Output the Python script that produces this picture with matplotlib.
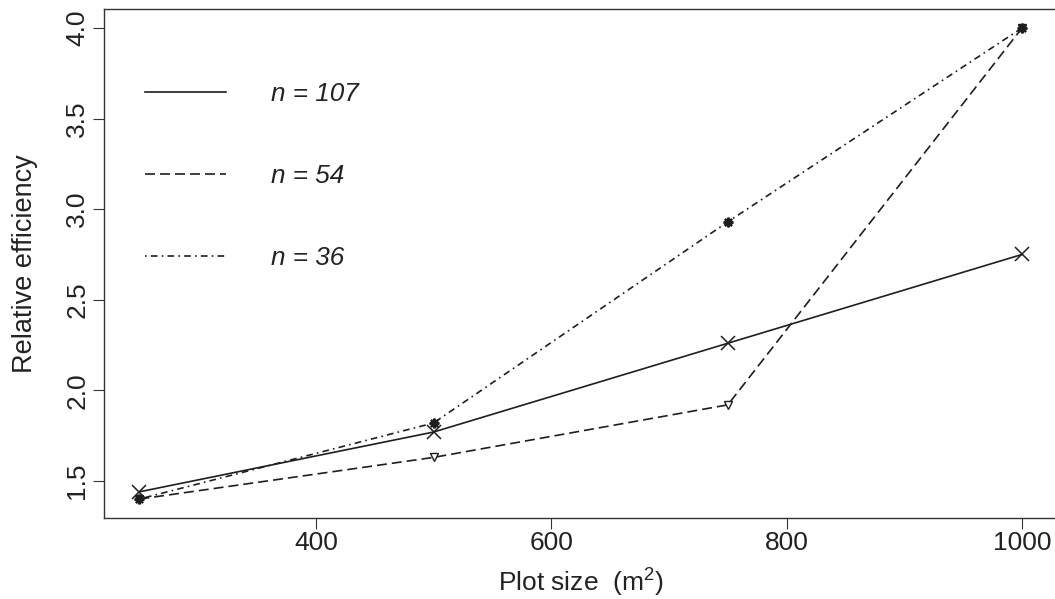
import matplotlib
matplotlib.use("Agg")
from matplotlib import pyplot as plt
from matplotlib.lines import Line2D

plt.rcParams['font.family'] = ['Liberation Sans', 'DejaVu Sans']
plt.rcParams['mathtext.fontset'] = 'custom'
plt.rcParams['mathtext.rm'] = 'Liberation Sans'
plt.rcParams['mathtext.it'] = 'Liberation Sans:italic'

plot_size = [250, 500, 750, 1000]
eff_107 = [1.44, 1.77, 2.26, 2.75]
eff_54 = [1.40, 1.63, 1.92, 4.00]
eff_36 = [1.40, 1.82, 2.93, 4.00]
labels = ["n = 107", "n = 54", "n = 36"]

ink = '#1e1e1e'

fig = plt.figure(figsize=(10.55, 5.99), dpi=100)
# axes box in pixels: left 104, bottom 81 (from figure bottom), top 9 from top
ax = fig.add_axes([104 / 1055, 81 / 599, 953.4 / 1055, 509 / 599])

ax.plot(plot_size, eff_107, color=ink, lw=1.2, linestyle='-',
        marker='x', markersize=10, markeredgewidth=1.1)
ax.plot(plot_size, eff_54, color=ink, lw=1.2, dashes=(6, 3),
        marker='v', markersize=6, markerfacecolor='white', markeredgewidth=1.0)
ax.plot(plot_size, eff_36, color=ink, lw=1.2, dashes=(1, 2.5, 4, 2.5),
        marker=(8, 2, 0), markersize=7, markeredgewidth=1.6)

ax.set_xlim(220, 1030)
ax.set_ylim(1.2956, 4.1044)
ax.set_xticks([400, 600, 800, 1000])
ax.set_yticks([1.5, 2.0, 2.5, 3.0, 3.5, 4.0])
ax.set_yticklabels(['1.5', '2.0', '2.5', '3.0', '3.5', '4.0'], rotation=90, va='center')

for sp in ax.spines.values():
    sp.set_color('#333333')
    sp.set_linewidth(1.0)
# the right edge of the box falls outside the cropped picture
ax.spines['right'].set_visible(False)

ax.tick_params(axis='both', direction='out', length=8, width=0.8, color='#333333',
               labelsize=19, labelcolor='#222222')
ax.tick_params(axis='x', pad=1.5)
ax.tick_params(axis='y', pad=2.5)

ax.set_xlabel(r"Plot size  (m$^{2}$)", fontsize=19, color='#222222', labelpad=8.5)
ax.set_ylabel("Relative efficiency", fontsize=19.5, color='#222222', labelpad=20)

handles = [
    Line2D([], [], color=ink, lw=1.2, linestyle='-'),
    Line2D([], [], color=ink, lw=1.2, dashes=(6, 3)),
    Line2D([], [], color=ink, lw=1.2, dashes=(1, 2.5, 4, 2.5)),
]
leg = ax.legend(handles, labels, loc='upper left', bbox_to_anchor=(0.0325, 0.877),
                frameon=False, prop={'size': 18.8, 'style': 'italic'},
                handlelength=3.1, handletextpad=1.7, labelspacing=2.22,
                borderaxespad=0)
for t in leg.get_texts():
    t.set_color('#222222')

fig.savefig("out.png", dpi=100)
